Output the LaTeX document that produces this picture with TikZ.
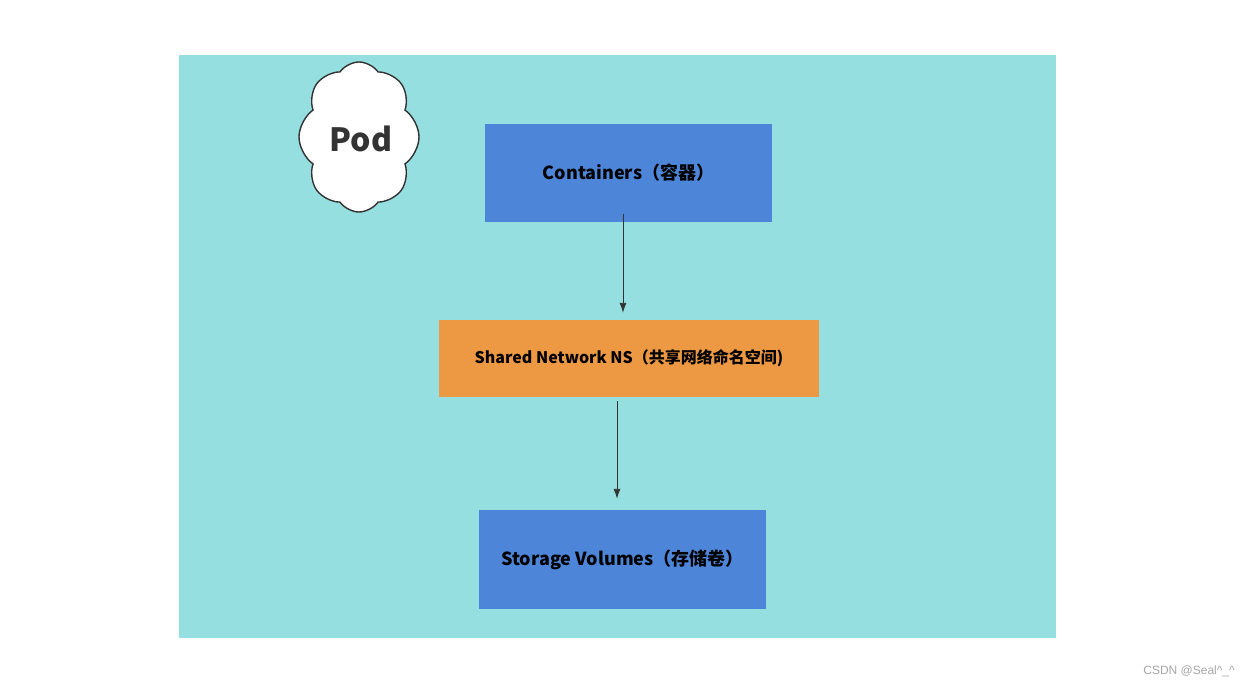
\documentclass[tikz,border=0pt]{standalone}
\usepackage{fontspec}
\newfontfamily\cjk{Noto Sans CJK SC}
\setsansfont{Liberation Sans}
\usetikzlibrary{shapes.symbols,arrows.meta}
\definecolor{podbg}{HTML}{95DFE0}
\definecolor{boxblue}{HTML}{4D86D9}
\definecolor{boxorange}{HTML}{ED9944}
\definecolor{linegray}{HTML}{333333}
\tikzset{
  compbox/.style={rectangle, draw=none, inner sep=0pt, text=black, font=\cjk\bfseries},
  flow/.style={draw=linegray, line width=0.9pt, -{Latex[length=10pt,width=7pt]}},
}
\begin{document}
\begin{tikzpicture}[x=1pt,y=-1pt]
\useasboundingbox (0,0) rectangle (1249,687);
\fill[white] (0,0) rectangle (1249,687);
\fill[podbg] (179,55) rectangle (1056,638);
\node[cloud, cloud puffs=8, cloud puff arc=110, cloud ignores aspect, draw=linegray, line width=1.4pt, fill=white,
  minimum width=120pt, minimum height=150pt, inner sep=0pt, text=linegray, font=\cjk\bfseries\fontsize{32}{36}\selectfont] (pod) at (359,137) {};
\node[text=linegray, font=\cjk\bfseries\fontsize{32}{36}\selectfont, inner sep=0pt] (podlabel) at (361,139) {Pod};
\node[compbox, fill=boxblue, minimum width=287pt, minimum height=98pt, font=\cjk\bfseries\fontsize{18}{22}\selectfont] (c) at (628.5,173) {Containers（容器）};
\node[compbox, fill=boxorange, minimum width=380pt, minimum height=77pt, font=\cjk\bfseries\fontsize{16}{20}\selectfont] (n) at (629,358.5) {Shared Network NS（共享网络命名空间)};
\node[compbox, fill=boxblue, minimum width=287pt, minimum height=99pt, font=\cjk\bfseries\fontsize{18}{22}\selectfont] (s) at (622.5,559.5) {Storage Volumes（存储卷）};
\draw[flow] ([xshift=-5.5pt,yshift=8pt]c.south) -- ([xshift=-6pt,yshift=7pt]n.north);
\draw[flow] ([xshift=-12pt,yshift=-4pt]n.south) -- ([xshift=-5.5pt,yshift=11pt]s.north);
\node[anchor=east, text=gray!70, font=\sffamily\fontsize{12}{14}\selectfont, inner sep=0pt] (wm) at (1235,671) {CSDN @Seal\^{}\_\^{}};
\end{tikzpicture}
\end{document}
